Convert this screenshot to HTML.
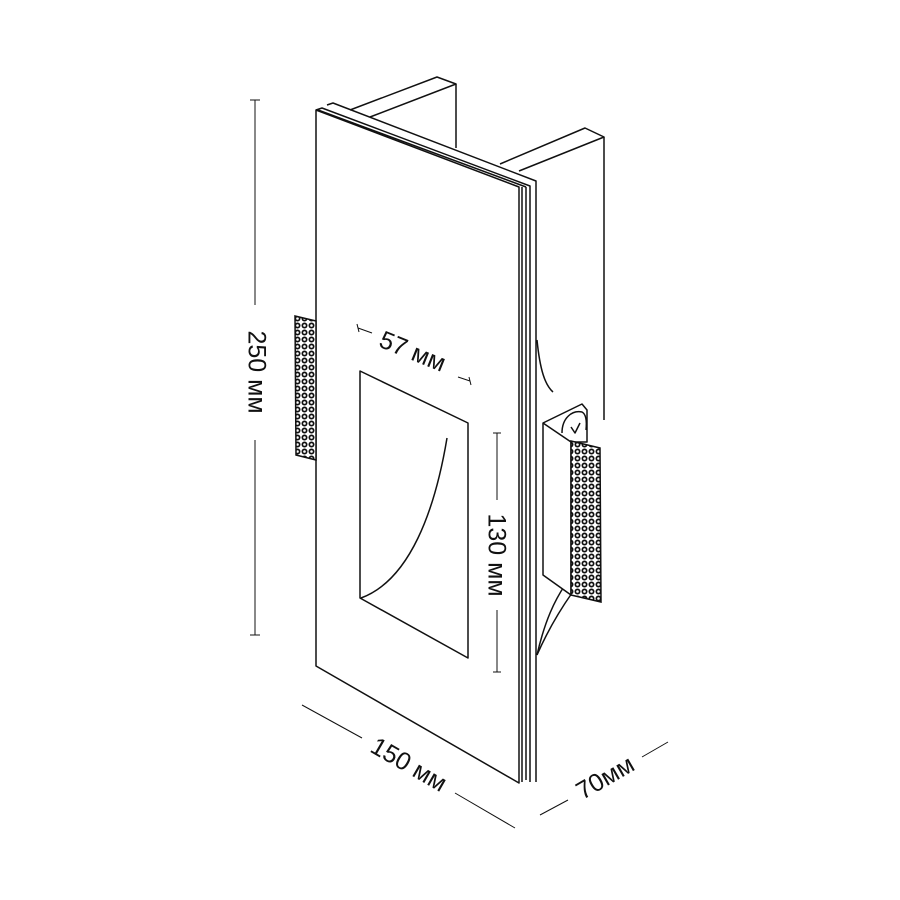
<!DOCTYPE html>
<html><head><meta charset="utf-8"><style>html,body{margin:0;padding:0;background:#fff}svg{display:block}</style></head>
<body>
<svg width="900" height="900" viewBox="0 0 900 900" xmlns="http://www.w3.org/2000/svg" font-family="Liberation Sans, sans-serif">
<defs>
<pattern id="dots" x="0" y="0" width="7" height="7" patternUnits="userSpaceOnUse">
<rect width="7" height="7" fill="#fff"/>
<circle cx="3.5" cy="3.5" r="3" fill="#111"/><circle cx="3.5" cy="3.5" r="1.3" fill="#fff"/>
</pattern>
</defs>
<g fill="none" stroke="#111" stroke-width="1.5" stroke-linejoin="round">
<polyline points="350,110 437,77 456,84 370,117"/>
<line x1="456" y1="84" x2="456" y2="148"/>
<polyline points="500,164 585,128 604,137 519,171"/>
<line x1="604" y1="137" x2="604" y2="420"/>
<polyline points="327,105 333,103 536,181 536,782"/>
<polyline points="316,110 322,108 530,186 530,782"/>
<line x1="318" y1="110" x2="526" y2="187"/>
<line x1="526" y1="187" x2="526" y2="780"/>
<line x1="522" y1="187" x2="522" y2="782"/>
<polygon points="316,110 519,187 519,783 316,666" fill="#fff"/>
<polygon points="360,371 468,423 468,658 360,598"/>
<path d="M361,598 C410,580 435,510 447,438"/>
<path d="M537,340 C540,370 545,385 553,392"/>
<path d="M537,655 C545,620 555,600 565,585"/>
<path d="M537,655 C548,630 560,610 572,593"/>
<polygon points="543,423 582,404 587,410 587,442 571,442 571,595 543,575" fill="#fff"/>
<line x1="543" y1="423" x2="571" y2="442"/>
<path d="M562,433 C562,418 572,410 582,412 C586,414 587,420 586,430"/>
<polyline points="571,427 575,433 580,423"/>
</g>
<polygon points="571,441 600,448 601,602 571,595" fill="url(#dots)" stroke="#111" stroke-width="1.5"/>
<polygon points="295,316 316,321 316,460 296,455" fill="url(#dots)" stroke="#111" stroke-width="1.5"/>
<g stroke="#111" stroke-width="1" fill="none">
<line x1="255" y1="100" x2="255" y2="305"/><line x1="250" y1="100" x2="260" y2="100"/>
<line x1="255" y1="440" x2="255" y2="635"/><line x1="250" y1="635" x2="260" y2="635"/>
<line x1="497" y1="433" x2="497" y2="500"/><line x1="493" y1="433" x2="501" y2="433"/>
<line x1="497" y1="610" x2="497" y2="672"/><line x1="493" y1="672" x2="501" y2="672"/>
<line x1="358" y1="328" x2="372" y2="333"/><line x1="357" y1="324" x2="359" y2="332"/>
<line x1="458" y1="377" x2="470" y2="381"/><line x1="469" y1="377" x2="471" y2="385"/>
<line x1="302" y1="705" x2="362" y2="738"/><line x1="455" y1="793" x2="515" y2="828"/>
<line x1="540" y1="815" x2="568" y2="800"/><line x1="642" y1="757" x2="668" y2="742"/>
</g>
<g fill="#111" font-size="25">
<text transform="translate(255,372) rotate(90)" text-anchor="middle" dominant-baseline="middle">250 мм</text>
<text transform="translate(495,555) rotate(90)" text-anchor="middle" dominant-baseline="middle">130 мм</text>
<text transform="translate(412,353) rotate(22)" text-anchor="middle" dominant-baseline="middle">57 мм</text>
<text transform="translate(408,766) rotate(30)" text-anchor="middle" dominant-baseline="middle">150 мм</text>
<text transform="translate(606,779) rotate(-30)" text-anchor="middle" dominant-baseline="middle">70мм</text>
</g>
</svg>
</body></html>
